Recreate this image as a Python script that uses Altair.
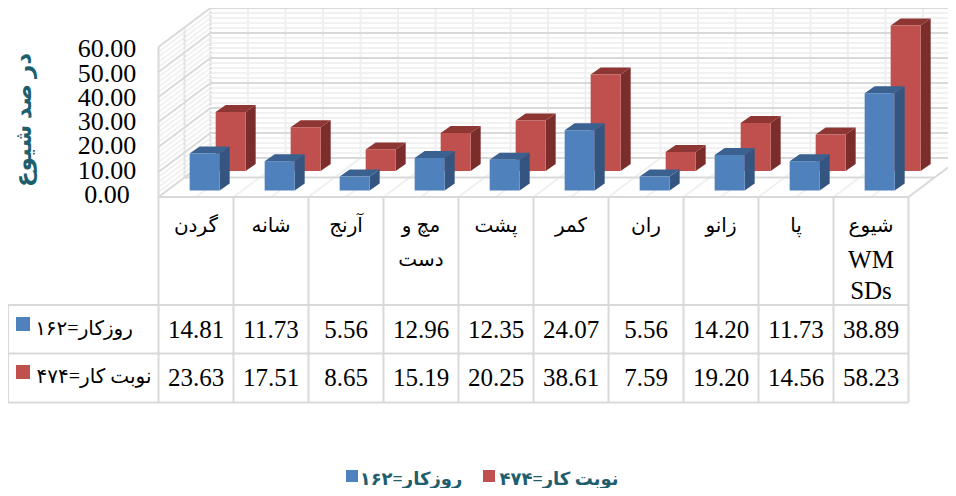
import altair as alt
import pandas as pd

categories = ["گردن", "شانه", "آرنج", "مچ و دست", "پشت", "کمر", "ران", "زانو", "پا", "شیوع WM SDs"]
label_lines = [["گردن"], ["شانه"], ["آرنج"], ["مچ و", "دست"], ["پشت"], ["کمر"], ["ران"], ["زانو"], ["پا"], ["شیوع", "WM", "SDs"]]
series_a = [14.81, 11.73, 5.56, 12.96, 12.35, 24.07, 5.56, 14.20, 11.73, 38.89]
series_b = [23.63, 17.51, 8.65, 15.19, 20.25, 38.61, 7.59, 19.20, 14.56, 58.23]
name_a = "روزکار=۱۶۲"
name_b = "نوبت کار=۴۷۴"
y_title = "در صد شیوع"
ticks = [0, 10, 20, 30, 40, 50, 60]

BLUE, BLUE_SIDE, BLUE_TOP = "#4f81bd", "#33557f", "#3a6190"
RED, RED_SIDE, RED_TOP = "#c0504d", "#7a2d2b", "#8e3633"
TEAL = "#215e6d"
SERIF = "Liberation Serif"
ARABIC = "Liberation Serif, DejaVu Sans"

W, H = 940, 480
XD = [(8 - 158.5) / 75.0, (8 + W - 158.5) / 75.0]
YD = [75.6, 75.6 - H / 2.5]
xs = alt.Scale(domain=XD, range=[0, W], nice=False, zero=False)
ys = alt.Scale(domain=[YD[1], YD[0]], range=[H, 0], nice=False, zero=False)
X = lambda f: alt.X(f, type="quantitative", scale=xs, axis=None)
Y = lambda f: alt.Y(f, type="quantitative", scale=ys, axis=None)
px = lambda sx: (sx - 158.5) / 75.0
py = lambda sy: (197.0 - sy) / 2.5

DX = 52 / 75.0   # floor depth in category units
DY = 39 / 2.5    # floor depth in value units


def seg(rows, color, width, dash=None):
    df = pd.DataFrame(rows, columns=["x", "y", "x2", "y2"])
    kw = {"strokeDash": dash} if dash else {}
    return alt.Chart(df).mark_rule(color=color, strokeWidth=width, clip=True, **kw).encode(
        x=X("x"), x2="x2", y=Y("y"), y2="y2")


# ---- walls and floor ----
minor_vals = [v for v in range(0, 61, 2) if v % 10]
minor = []
for v in minor_vals:
    minor.append((0, v, DX, v + DY))
    minor.append((DX, v + DY, 10 + DX, v + DY))
wall_minor = seg(minor, "#f1f1f1", 2)

vert = [(DX + k * 0.5, DY, DX + k * 0.5, 60 + DY) for k in range(1, 21)]
wall_vert = seg(vert, "#efefef", 2)

floor_light = []
for k in range(1, 20):
    floor_light.append((k * 0.5, 0, k * 0.5 + DX, DY))
floor_seg = seg(floor_light, "#f0f0f0", 2)

major = []
for v in ticks:
    major.append((0, v, DX, v + DY))
    major.append((DX, v + DY, 10 + DX, v + DY))
major += [
    (0, 0, 0, 60),
    (10, 0, 10 + DX, DY),
    (DX / 2, DY / 2, 10 + DX / 2, DY / 2),
]
wall_major = seg(major, "#d9d9d9", 2)
mid_vert = seg([(DX / 2, DY / 2, DX / 2, 60 + DY / 2), (DX, DY, DX, 60 + DY)], "#dedede", 2, [3, 1])


# ---- 3D bars ----
def bars(vals, depth, front, side, top):
    dx0, dy0 = depth * DX, depth * DY
    w, ddx, ddy = 0.4, 10 / 75.0, 7 / 2.5
    fr, sd, tp = [], [], []
    for i, v in enumerate(vals):
        x0 = i + 0.5 + dx0 - w / 2
        x1 = x0 + w
        b, t = dy0, v + dy0
        fr.append(dict(x=x0, x2=x1, y=b, y2=t))
        sd += [dict(g=i, x=x1, lo=b, hi=t), dict(g=i, x=x1 + ddx, lo=b + ddy, hi=t + ddy)]
        tp += [dict(g=i, o=0, x=x0, lo=t, hi=t),
               dict(g=i, o=1, x=x0 + ddx, lo=t, hi=t + ddy),
               dict(g=i, o=2, x=x1, lo=t, hi=t + ddy),
               dict(g=i, o=3, x=x1 + ddx, lo=t + ddy, hi=t + ddy)]
    out = []
    for i in range(len(vals)):
        s = [r for r in sd if r["g"] == i]
        p = [r for r in tp if r["g"] == i]
        f = fr[i]
        out.append(alt.Chart(pd.DataFrame(s)).mark_area(color=side).encode(x=X("x"), y=Y("lo"), y2="hi"))
        out.append(alt.Chart(pd.DataFrame(p)).mark_area(color=top).encode(x=X("x"), y=Y("lo"), y2="hi"))
        out.append(alt.Chart(pd.DataFrame([f])).mark_rect(color=front).encode(x=X("x"), x2="x2", y=Y("y"), y2="y2"))
    return out


red_layers = bars(series_b, 2 / 3, RED, RED_SIDE, RED_TOP)
blue_layers = bars(series_a, 1 / 6, BLUE, BLUE_SIDE, BLUE_TOP)

# ---- data table ----
yr = [py(197), py(305), py(353.5), py(402.5)]
tbl = [(0, yr[0], 10, yr[0]), (px(8), yr[1], 10, yr[1]), (px(8), yr[2], 10, yr[2]), (px(8), yr[3], 10, yr[3]),
       (px(8), yr[1], px(8), yr[3])]
tbl += [(k, yr[0], k, yr[3]) for k in range(0, 11)]
table = seg(tbl, "#d9d9d9", 2)


def text(rows, size, font, color="#000000", weight="normal", angle=0):
    df = pd.DataFrame(rows, columns=["x", "y", "t"])
    return alt.Chart(df).mark_text(fontSize=size, font=font, color=color, fontWeight=weight,
                                   align="center", baseline="middle", angle=angle).encode(
        x=X("x"), y=Y("y"), text="t:N")


num_rows = []
for i, (a, b) in enumerate(zip(series_a, series_b)):
    num_rows.append((i + 0.5, py(330), f"{a:.2f}"))
    num_rows.append((i + 0.5, py(378), f"{b:.2f}"))
nums = text(num_rows, 25, SERIF)

cat_rows, latin_rows = [], []
line_y = [226, 260, 291]
for i, lines in enumerate(label_lines):
    for j, s in enumerate(lines):
        (latin_rows if s.isascii() else cat_rows).append((i + 0.5, py(line_y[j]), s))
cats = text(cat_rows, 20, ARABIC)
latin = text(latin_rows, 25, SERIF)

head = text([(px(84), py(329), name_a), (px(94), py(377), name_b)], 20, ARABIC)

tick_rows = [(px(107), py(195 - 2.43 * t), f"{t:.2f}") for t in ticks]
tick_txt = text(tick_rows, 26, SERIF)
title = text([(px(24), py(120), y_title)], 23, ARABIC, TEAL, "bold", 270)

leg = text([(px(411), py(480), name_a), (px(559), py(480), name_b)], 18, ARABIC, TEAL, "bold")


def sw(rows, color, size):
    df = pd.DataFrame(rows, columns=["x", "y"])
    return alt.Chart(df).mark_square(color=color, size=size, opacity=1).encode(x=X("x"), y=Y("y"))


sw_a = sw([(px(23), py(324))], BLUE, 196)
sw_b = sw([(px(23), py(372))], RED, 196)
sw_la = sw([(px(352), py(476))], BLUE, 144)
sw_lb = sw([(px(489), py(476))], RED, 144)

chart = alt.layer(
    wall_minor, wall_vert, floor_seg, mid_vert, wall_major,
    *red_layers, *blue_layers,
    table, nums, cats, latin, head, tick_txt, title, leg, sw_a, sw_b, sw_la, sw_lb,
).properties(width=W, height=H, padding=0, background="white",
             autosize=alt.AutoSizeParams(type="none")
).configure_view(stroke=None)

chart.save("out.html", embed_options={"renderer": "svg", "actions": False})
